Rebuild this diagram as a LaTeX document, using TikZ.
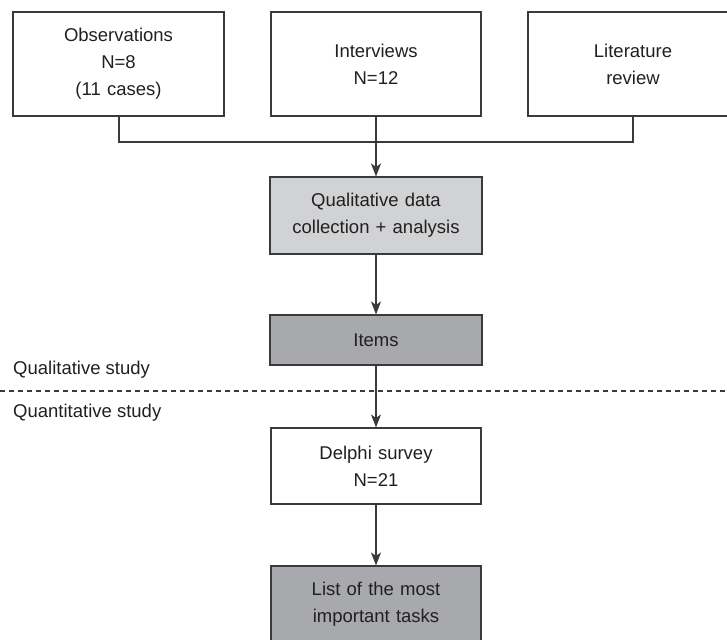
\documentclass[tikz,border=0pt]{standalone}
\usepackage{fontspec}
\setmainfont{Liberation Sans}
\usetikzlibrary{arrows.meta}
\definecolor{txt}{HTML}{231F20}
\definecolor{edge}{HTML}{3A3A3A}
\definecolor{lightfill}{HTML}{D1D2D4}
\definecolor{darkfill}{HTML}{A7A9AC}
\tikzset{
  box/.style={draw=edge, line width=1.1pt, minimum width=210pt, text width=205pt, align=center, inner sep=0pt, text=txt, font=\fontsize{18.5}{27}\selectfont},
  conn/.style={draw=edge, line width=1.1pt},
  arr/.style={conn, -{Stealth[length=13pt, width=10pt, inset=3.5pt]}},
  lbl/.style={anchor=west, inner sep=0pt, text=txt, font=\fontsize{18.5}{27}\selectfont}
}
\begin{document}
\begin{tikzpicture}[x=1pt, y=-1pt]
\useasboundingbox (0,0) rectangle (727,639);
\clip (0,0) rectangle (727,639);
\node[box, minimum height=104pt, minimum width=211pt] (obs) at (118.5,64) {Observations\\N=8\\(11 cases)};
\node[box, minimum height=104pt] (int) at (376,64) {Interviews\\N=12};
\node[box, minimum height=104pt] (lit) at (633,64) {Literature\\review};
\node[box, fill=lightfill, minimum height=77pt, minimum width=212pt] (qual) at (376,215.5) {Qualitative data\\collection + analysis};
\node[box, fill=darkfill, minimum height=50pt, minimum width=212pt] (items) at (376,340) {Items};
\node[box, minimum height=76pt] (delphi) at (376,466) {Delphi survey\\N=21};
\node[box, fill=darkfill, minimum height=77pt] (list) at (376,604.5) {List of the most\\important tasks};
\coordinate (jl) at (119,142);
\coordinate (jr) at (633,142);
\draw[conn] (obs.south -| jl) -- (jl) -- (jr) -- (lit.south -| jr);
\draw[arr] (int.south) -- (qual.north);
\draw[arr] (qual.south) -- (items.north);
\draw[arr] (items.south) -- (delphi.north);
\draw[arr] (delphi.south) -- (list.north);
\coordinate (dl) at (0,391);
\coordinate (dr) at (727,391);
\draw[draw=edge, line width=1.1pt, dash pattern=on 5pt off 4pt] (dl) -- (dr);
\node[lbl] (qlab) at (13,370) {Qualitative study};
\node[lbl] (qtlab) at (13,413) {Quantitative study};
\end{tikzpicture}
\end{document}
